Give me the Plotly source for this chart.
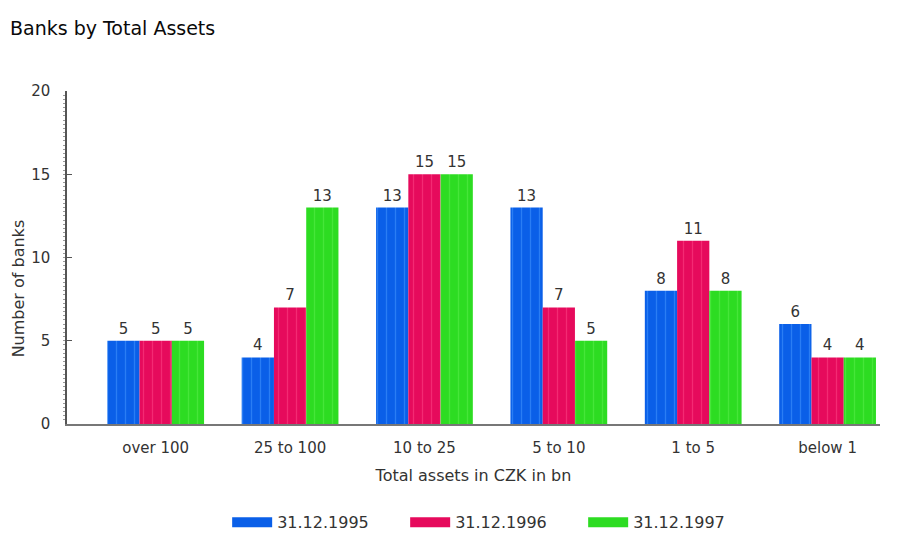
import plotly.graph_objects as go

# Bank counts by size of total assets (CZK bn)
categories = ["over 100", "25 to 100", "10 to 25", "5 to 10", "1 to 5", "below 1"]
series_names = ["31.12.1995", "31.12.1996", "31.12.1997"]
banks_1995 = [5, 4, 13, 13, 8, 6]
banks_1996 = [5, 7, 15, 7, 11, 4]
banks_1997 = [5, 13, 15, 5, 8, 4]
y_ticks = [0, 5, 10, 15, 20]

colors = ["#0a5fe8", "#e60a5c", "#2ddc22"]
stripe_colors = ["#4a9cff", "#ff4a8a", "#60f050"]
font_family = "DejaVu Sans"
text_color = "#333333"

fig = go.Figure()
for name, values, color, stripe in zip(series_names, [banks_1995, banks_1996, banks_1997], colors, stripe_colors):
    fig.add_trace(go.Bar(
        x=categories, y=values, name=name,
        marker=dict(color=color, line=dict(width=0),
                    pattern=dict(shape="|", fgcolor=stripe, bgcolor=color, size=9, solidity=0.14)),
        text=values, textposition="outside", cliponaxis=False,
        textfont=dict(family=font_family, size=15, color=text_color),
        showlegend=False,
    ))
    # wide legend swatch
    fig.add_trace(go.Scatter(
        x=[None], y=[None], mode="lines", name=name,
        line=dict(color=color, width=15),
    ))

fig.update_layout(
    width=907, height=533,
    paper_bgcolor="white", plot_bgcolor="white",
    margin=dict(l=67, r=27, t=91, b=109, autoexpand=False),
    barmode="group", bargap=0.28, bargroupgap=0,
    font=dict(family=font_family, size=15, color=text_color),
    title=dict(text="Banks by Total Assets", x=0.011, xanchor="left", y=0.947, yanchor="middle",
               font=dict(family=font_family, size=19, color="#0a0a0a")),
    legend=dict(orientation="h", x=0.197, xanchor="left", y=-0.295, yanchor="middle",
                entrywidth=123, entrywidthmode="pixels", itemwidth=40,
                font=dict(family=font_family, size=16, color=text_color)),
    showlegend=True,
    annotations=[dict(text="Number of banks", textangle=-90, xref="paper", yref="paper",
                      x=-0.06, y=0.408, xanchor="center", yanchor="middle", showarrow=False,
                      font=dict(family=font_family, size=16, color=text_color))],
)

fig.update_xaxes(
    range=[-0.66, 5.39], showline=True, linecolor="#777777", linewidth=1.5,
    ticks="", showgrid=False, zeroline=False, ticklabelstandoff=9,
    tickfont=dict(family=font_family, size=15, color=text_color),
    title=dict(text="Total assets in CZK in bn", standoff=14,
               font=dict(family=font_family, size=16, color=text_color)),
)
fig.update_yaxes(
    range=[0, 20], tickvals=y_ticks, showline=True, linecolor="#555555", linewidth=1.5,
    ticks="inside", ticklen=5, tickcolor="#555555", showgrid=False, zeroline=False,
    minor=dict(dtick=0.25, ticks="outside", ticklen=2, tickcolor="#999999"),
    ticklabelstandoff=12,
    tickfont=dict(family=font_family, size=15, color=text_color),
)

fig.write_html("out.html")
